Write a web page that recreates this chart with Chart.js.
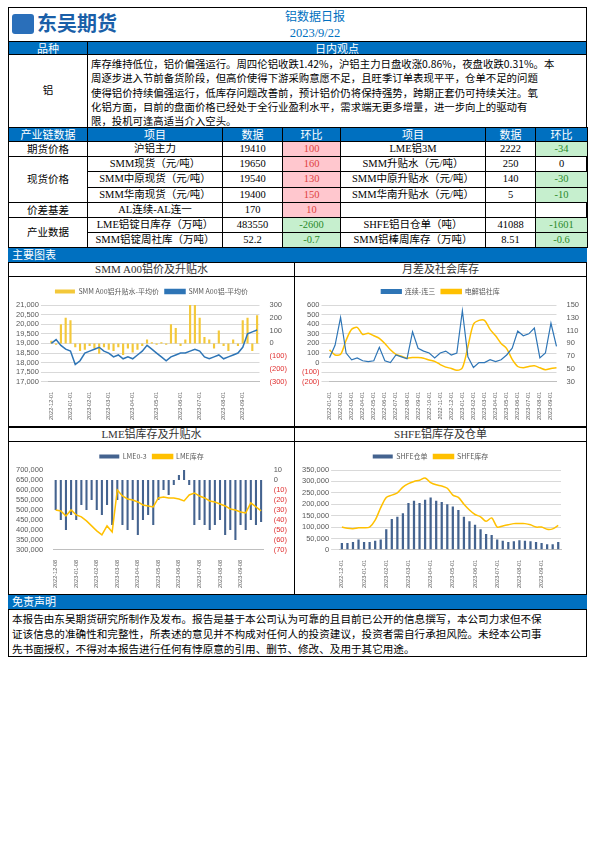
<!DOCTYPE html>
<html><head><meta charset="utf-8">
<script src="https://cdn.jsdelivr.net/npm/chart.js@4"></script>
<style>
body{margin:0;width:595px;height:842px;background:#fff;font-family:"Liberation Serif","Noto Sans CJK SC",serif;position:relative;overflow:hidden}
.a{position:absolute;box-sizing:border-box}
.bar{background:#0070c0;color:#fff;font-family:"Noto Sans CJK SC";font-size:11px;line-height:13px}
.c{position:absolute;box-sizing:border-box;border:1px solid #000;text-align:center;font-size:10.5px;line-height:14px;white-space:nowrap;font-family:"Liberation Serif","Noto Sans CJK SC"}
.h{background:#0070c0;color:#fff;font-family:"Noto Sans CJK SC";font-size:11px;line-height:13px}
.p{background:#ffc7ce;color:#e04040}.g{background:#c6efce;color:#2a8a2a}
.ttl{position:absolute;box-sizing:border-box;border:1px solid #000;text-align:center;font-size:11px;line-height:13px;color:#333;font-family:"Liberation Serif","Noto Sans CJK SC"}
.pan{position:absolute;box-sizing:border-box;border:1px solid #000;border-top:none}
</style></head><body>
<div class="a" style="left:8px;top:7px;width:579px;height:650px;border:1px solid #000"></div>
<div class="a" style="left:12px;top:10px;font-family:'Noto Sans CJK SC';font-weight:bold;font-size:20px;color:#1a5fa8;line-height:26px"><span style="display:inline-block;width:22px;height:20px;background:#2a6fba;border-radius:3px;vertical-align:-3px;margin-right:3px"></span>东吴期货</div>
<div class="a" style="left:200px;top:8px;width:230px;text-align:center;color:#0070c0;font-family:'Noto Sans CJK SC';font-size:12px;line-height:16px">铝数据日报<br><span style="font-family:'Liberation Serif';font-size:12.5px">2023/9/22</span></div>
<div class="c h" style="left:8px;top:41px;width:80px;height:14px">品种</div>
<div class="c h" style="left:87px;top:41px;width:500px;height:14px">日内观点</div>
<div class="c" style="left:8px;top:54px;width:80px;height:74px;line-height:72px">铝</div>
<div class="c" style="left:87px;top:54px;width:500px;height:74px;text-align:left;padding:2px 3px;font-size:10.4px;line-height:14.3px;font-family:'Noto Sans CJK SC','Liberation Serif'">库存维持低位，铝价偏强运行。周四伦铝收跌1.42%，沪铝主力日盘收涨0.86%，夜盘收跌0.31%。本<br>周逐步进入节前备货阶段，但高价使得下游采购意愿不足，且旺季订单表现平平，仓单不足的问题<br>使得铝价持续偏强运行，低库存问题改善前，预计铝价仍将保持强势，跨期正套仍可持续关注。氧<br>化铝方面，目前的盘面价格已经处于全行业盈利水平，需求端无更多增量，进一步向上的驱动有<br>限，投机可逢高适当介入空头。</div>
<div id="tbl"></div>
<div class="a bar" style="left:8px;top:248px;width:579px;height:14px;padding-left:4px">主要图表</div>
<div class="ttl" style="left:8px;top:262px;width:287px;height:15px">SMM A00铝价及升贴水</div>
<div class="ttl" style="left:294px;top:262px;width:293px;height:15px">月差及社会库存</div>
<div class="pan" style="left:8px;top:276px;width:287px;height:151px"></div>
<div class="pan" style="left:294px;top:276px;width:293px;height:151px"></div>
<div class="ttl" style="left:8px;top:427px;width:287px;height:15px">LME铝库存及升贴水</div>
<div class="ttl" style="left:294px;top:427px;width:293px;height:15px">SHFE铝库存及仓单</div>
<div class="pan" style="left:8px;top:441px;width:287px;height:154px"></div>
<div class="pan" style="left:294px;top:441px;width:293px;height:154px"></div>
<canvas id="c1" class="a" style="left:10px;top:280px"></canvas>
<canvas id="c2" class="a" style="left:296px;top:280px"></canvas>
<canvas id="c3" class="a" style="left:10px;top:445px"></canvas>
<canvas id="c4" class="a" style="left:296px;top:445px"></canvas>
<div class="a bar" style="left:8px;top:595px;width:579px;height:14px;padding-left:4px">免责声明</div>
<div class="a" style="left:8px;top:609px;width:579px;height:48px;border:1px solid #000;padding:1px 3px;font-family:'Noto Sans CJK SC';font-size:10.6px;line-height:15px;white-space:nowrap">本报告由东吴期货研究所制作及发布。报告是基于本公司认为可靠的且目前已公开的信息撰写，本公司力求但不保<br>证该信息的准确性和完整性，所表述的意见并不构成对任何人的投资建议，投资者需自行承担风险。未经本公司事<br>先书面授权，不得对本报告进行任何有悖原意的引用、删节、修改、及用于其它用途。</div>
<script>
// ---- table data ----
const tblHead=['产业链数据','项目','数据','环比','项目','数据','环比'];
const rowGroups=[['期货价格',1],['现货价格',3],['价差基差',1],['产业数据',2]];
const leftItems=['沪铝主力','SMM现货（元/吨）','SMM中原现货（元/吨）','SMM华南现货（元/吨）','AL连续-AL连一','LME铝锭日库存（万吨）','SMM铝锭周社库（万吨）'];
const leftVals=['19410','19650','19540','19400','170','483550','52.2'];
const leftChg=['100','160','130','150','10','-2600','-0.7'];
const rightItems=['LME铝3M','SMM升贴水（元/吨）','SMM中原升贴水（元/吨）','SMM华南升贴水（元/吨）','','SHFE铝日仓单（吨）','SMM铝棒周库存（万吨）'];
const rightVals=['2222','250','140','5','','41088','8.51'];
const rightChg=['-34','0','-30','-10','','-1601','-0.6'];
const colX=[8,87,222,282,340,485,535,587];
(function(){
 let h='';const top0=127,rh=15.2;
 for(let i=0;i<7;i++)h+=`<div class="c h" style="left:${colX[i]}px;top:${top0}px;width:${colX[i+1]-colX[i]+1}px;height:15px">${tblHead[i]}</div>`;
 let r=0;
 rowGroups.forEach(([n,k])=>{h+=`<div class="c" style="left:8px;top:${top0+14+r*rh}px;width:80px;height:${k*rh+1}px;line-height:${k*rh}px">${n}</div>`;r+=k;});
 const cls=v=>v===''||v==='0'?'':(v[0]==='-'?'g':'p');
 for(let i=0;i<7;i++){
  const y=top0+14+i*rh;
  const cells=[leftItems[i],leftVals[i],leftChg[i],rightItems[i],rightVals[i],rightChg[i]];
  cells.forEach((t,j)=>{const c=(j==2||j==5)?cls(t):'';
   h+=`<div class="c ${c}" style="left:${colX[j+1]}px;top:${y}px;width:${colX[j+2]-colX[j+1]+1}px;height:${rh+1}px">${t}</div>`;});
 }
 document.getElementById('tbl').innerHTML=h;
})();

// ---- chart 1 ----
const c1Labels=['2022-12-01','','','','2023-01-01','','','','2023-02-01','','','','2023-03-01','','','','','2023-04-01','','','','','2023-05-01','','','','','2023-06-01','','','','2023-07-01','','','','','2023-08-01','','','','2023-09-01','','',''];
const c1Price=[19000,19200,18900,18700,18600,17900,18100,18500,18600,18700,18800,18600,18500,18300,18400,18200,18300,18200,18400,18600,18900,18700,18500,18300,18100,18300,18400,18500,18500,18600,18700,18600,18300,18200,18300,18400,18200,18300,18400,18500,18800,19500,19600,19700];
const c1Prem=[20,-10,150,200,180,-30,-60,-50,-20,-40,-80,-30,-50,-60,-30,-90,-40,-70,-50,-20,30,10,-10,10,-10,150,120,-20,30,300,300,200,50,30,-40,100,-20,-60,30,-20,180,200,-60,220];
// ---- chart 2 ----
const c2Labels=['2022-01-01','','2022-02-01','','2022-03-01','','2022-04-01','','2022-05-01','','2022-06-01','','2022-07-01','','2022-08-01','','2022-09-01','','2022-10-01','','2022-11-01','','2022-12-01','','2023-01-01','','2023-02-01','','2023-03-01','','2023-04-01','','2023-05-01','','2023-06-01','','2023-07-01','','2023-08-01','','2023-09-01',''];
const c2Spread=[50,180,470,100,30,50,20,10,20,160,20,0,80,60,40,320,150,120,100,50,100,120,80,100,540,60,-50,0,0,30,10,30,80,150,330,280,300,360,50,100,410,170];
const c2Stock=[80,72,73,95,112,115,104,106,102,98,90,80,73,70,67,68,68,67,64,62,57,53,51,48,52,85,120,126,126,112,102,90,82,65,54,52,54,55,52,49,51,52];
// ---- chart 3 ----
const c3Labels=['2022-12-08','','','','2023-01-08','','','','2023-02-08','','','','2023-03-08','','','','2023-04-08','','','','2023-05-08','','','','2023-06-08','','','','2023-07-08','','','','2023-08-08','','','','2023-09-08','','','',''];
const c3Stock=[500,495,470,500,475,465,445,420,395,375,420,390,600,570,555,550,540,525,520,515,560,565,560,560,555,545,575,585,570,560,545,540,530,520,505,500,490,485,535,515,495];
const c3Spread=[-30,-40,-50,-35,-40,-25,-30,-20,-30,-35,-25,-45,-20,-45,-50,-40,-55,-40,-35,-45,-20,-10,-15,-5,5,10,-5,-45,-40,-45,-50,-45,-40,-55,-50,-60,-45,-50,-40,-45,-42];
// ---- chart 4 ----
const c4Labels=['2022-12-01','','','','2023-01-01','','','','2023-02-01','','','','2023-03-01','','','','2023-04-01','','','','2023-05-01','','','','2023-06-01','','','','2023-07-01','','','','2023-08-01','','','','2023-09-01','','',''];
const c4Stock=[100,95,93,97,97,100,130,185,230,240,250,275,290,300,305,315,295,285,280,270,240,230,200,175,155,145,125,140,100,105,110,115,115,115,110,100,100,90,92,107];
const c4Warr=[30,30,35,45,35,35,40,45,90,135,145,160,205,215,205,220,230,215,210,200,190,175,145,125,110,90,70,65,45,40,35,38,42,40,38,35,30,25,25,35];

const F="Liberation Sans";const FS=7.5;const GC='#d9d9d9';
const negFmt=v=>v<0?'('+Math.abs(v)+')':String(v);
const negCol=c=>c.tick&&c.tick.value<0?'#e03030':'#595959';
function xAxis(){return{grid:{display:false},border:{color:'#bfbfbf'},ticks:{autoSkip:false,maxRotation:90,minRotation:90,font:{family:F,size:5.5},color:'#595959',padding:2,callback:function(v){return this.getLabelForValue(v);}}};}
function legend(){return{display:true,position:'top',labels:{font:{family:"Noto Sans CJK SC",size:7},color:'#595959',boxWidth:20,boxHeight:4,padding:6,sort:(a,b)=>a.datasetIndex-b.datasetIndex}};}
const thou=v=>v.toLocaleString('en-US');
function yT(extra){return Object.assign({autoSkip:false,font:{family:F,size:FS},color:'#595959',padding:2},extra);}
function mk(id,w,h,cfg){const c=document.getElementById(id);c.width=w;c.height=h;cfg.options=Object.assign({responsive:false,animation:false,layout:{padding:{left:4,right:4,top:2,bottom:2}}},cfg.options);new Chart(c,cfg);}

mk('c1',283,144,{data:{labels:c1Labels,datasets:[
 {type:'bar',label:'SMM A00铝升贴水-平均价',data:c1Prem,yAxisID:'y1',backgroundColor:'#f3c83a',barPercentage:0.5,categoryPercentage:0.9,order:2},
 {type:'line',label:'SMM A00铝-平均价',data:c1Price,yAxisID:'y',borderColor:'#2e75b6',backgroundColor:'#2e75b6',borderWidth:1.5,pointRadius:0,tension:0,order:1}]},
 options:{plugins:{legend:legend()},scales:{x:xAxis(),
 y:{min:17000,max:21000,ticks:yT({stepSize:500,callback:thou}),grid:{color:GC},border:{display:false}},
 y1:{position:'right',min:-300,max:300,ticks:yT({stepSize:100,color:negCol,callback:negFmt}),grid:{display:false},border:{display:false}}}}});

mk('c2',289,144,{data:{labels:c2Labels,datasets:[
 {type:'line',label:'连续-连三',data:c2Spread,yAxisID:'y',borderColor:'#2e75b6',backgroundColor:'#2e75b6',borderWidth:1.2,pointRadius:0,tension:0},
 {type:'line',label:'电解铝社库',data:c2Stock,yAxisID:'y1',borderColor:'#ffc000',backgroundColor:'#ffc000',borderWidth:1.5,pointRadius:0,tension:0.3}]},
 options:{plugins:{legend:legend()},scales:{x:xAxis(),
 y:{min:-200,max:600,ticks:yT({stepSize:100,color:negCol,callback:negFmt}),grid:{color:GC},border:{display:false}},
 y1:{position:'right',min:30,max:150,ticks:yT({stepSize:20}),grid:{display:false},border:{display:false}}}}});

mk('c3',283,147,{data:{labels:c3Labels,datasets:[
 {type:'bar',label:'LME0-3',data:c3Spread,yAxisID:'y1',backgroundColor:'#44638f',barPercentage:0.45,categoryPercentage:0.9,order:2},
 {type:'line',label:'LME库存',data:c3Stock.map(v=>v*1000),yAxisID:'y',borderColor:'#ffc000',backgroundColor:'#ffc000',borderWidth:1.5,pointRadius:0,tension:0,order:1}]},
 options:{plugins:{legend:legend()},scales:{x:xAxis(),
 y:{min:300000,max:700000,ticks:yT({stepSize:50000,callback:thou}),grid:{display:false},border:{display:false}},
 y1:{position:'right',min:-70,max:10,ticks:yT({stepSize:10,color:negCol,callback:negFmt}),grid:{display:false},border:{display:false}}}}});

mk('c4',289,147,{data:{labels:c4Labels,datasets:[
 {type:'bar',label:'SHFE仓单',data:c4Warr.map(v=>v*1000),backgroundColor:'#44638f',barPercentage:0.45,categoryPercentage:0.9,order:2},
 {type:'line',label:'SHFE库存',data:c4Stock.map(v=>v*1000),borderColor:'#ffc000',backgroundColor:'#ffc000',borderWidth:1.5,pointRadius:0,tension:0.3,order:1}]},
 options:{layout:{padding:{left:4,right:24,top:2,bottom:2}},plugins:{legend:legend()},scales:{x:xAxis(),
 y:{min:0,max:350000,ticks:yT({stepSize:50000,callback:thou}),grid:{color:GC},border:{display:false}}}}});
</script></body></html>
